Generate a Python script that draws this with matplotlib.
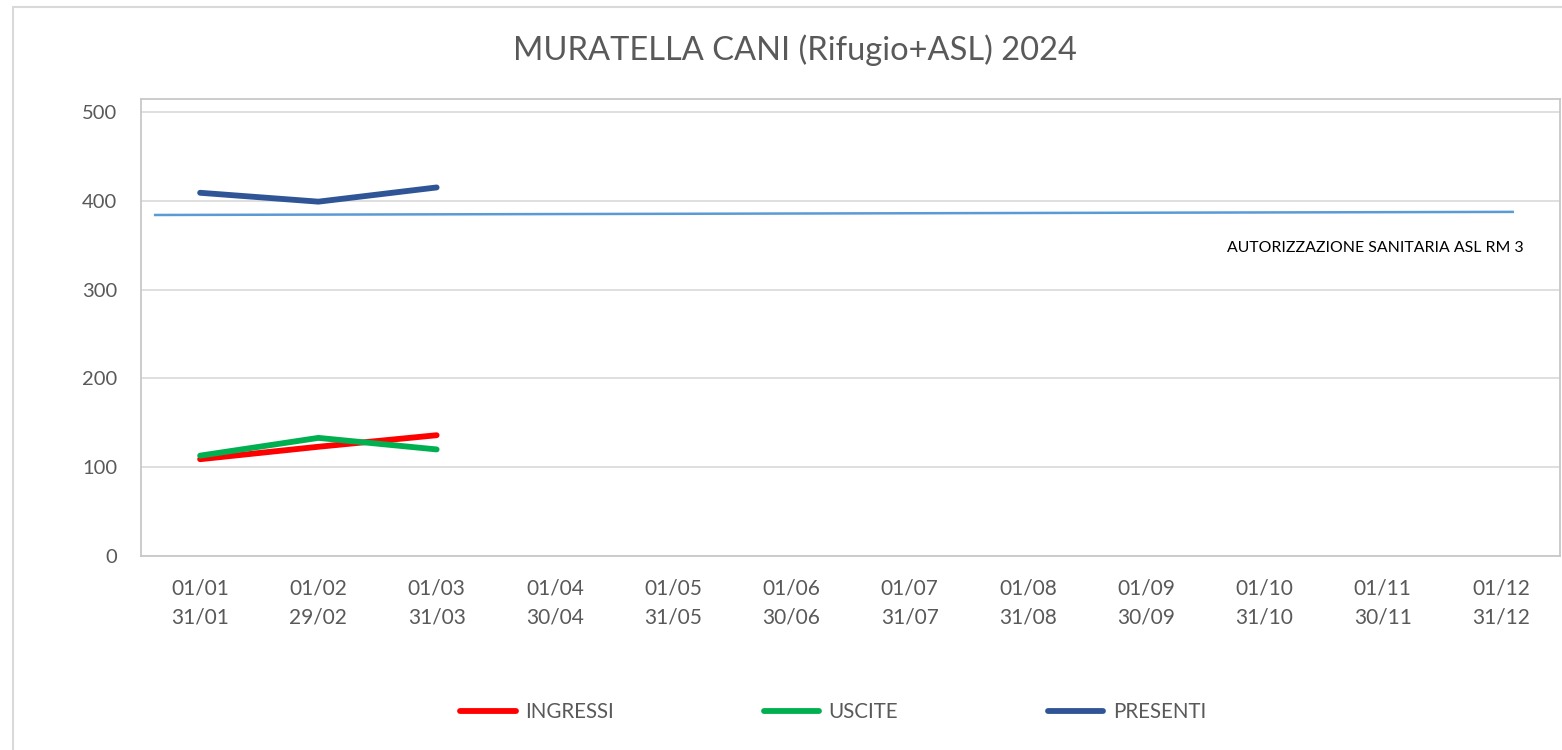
import numpy as np
import matplotlib.pyplot as plt
from matplotlib.patches import Rectangle

plt.rcParams['font.family'] = ['Lato', 'DejaVu Sans']

# periods (two-line category labels)
inizio = ['01/01', '01/02', '01/03', '01/04', '01/05', '01/06',
          '01/07', '01/08', '01/09', '01/10', '01/11', '01/12']
fine = ['31/01', '29/02', '31/03', '30/04', '31/05', '30/06',
        '31/07', '31/08', '30/09', '31/10', '30/11', '31/12']

# monthly values (only first three months available)
ingressi = [109, 123, 136]
uscite = [113, 133, 120]
presenti = [409, 399, 415]

# authorised capacity line
soglia_x = [-0.38, 11.1]
soglia_y = [384, 387.5]
soglia_label = 'AUTORIZZAZIONE SANITARIA ASL RM 3'

grigio = '#595959'
bordo = '#D9D9D9'

fig = plt.figure(figsize=(15.62, 7.5), dpi=100)
ax = fig.add_axes([141/1562, 1 - 556/750, (1560-141)/1562, (556-99)/750])

x = np.arange(len(inizio))
n = len(ingressi)

ax.plot(soglia_x, soglia_y, color='#5B9BD5', lw=1.8, zorder=2)
l1, = ax.plot(x[:n], ingressi, color='#FF0000', lw=4.2, solid_capstyle='round', label='INGRESSI', zorder=3)
l2, = ax.plot(x[:n], uscite, color='#00B050', lw=4.2, solid_capstyle='round', label='USCITE', zorder=4)
l3, = ax.plot(x[:n], presenti, color='#2F5597', lw=4.2, solid_capstyle='round', label='PRESENTI', zorder=3)

ax.text(9.94, 347, soglia_label, ha='center', va='center', fontsize=11.4, color='black')

ax.set_xlim(-0.5, 11.5)
ax.set_ylim(0, 514.6)
ax.set_yticks([0, 100, 200, 300, 400, 500])
ax.set_xticks(x)
ax.set_xticklabels([a + '\n' + b for a, b in zip(inizio, fine)], linespacing=1.6)
ax.tick_params(axis='both', length=0, labelcolor=grigio)
ax.tick_params(axis='y', pad=17, labelsize=14.5)
ax.tick_params(axis='x', pad=16, labelsize=15)
ax.grid(axis='y', color=bordo, lw=1.2)
ax.set_axisbelow(True)
for s in ax.spines.values():
    s.set_color('#C8C8C8')
    s.set_linewidth(1.3)

fig.text(0.509, 1 - 50/750, 'MURATELLA CANI (Rifugio+ASL) 2024',
         ha='center', va='center', fontsize=23.5, color=grigio)

fig.legend(handles=[l1, l2, l3], loc='center', bbox_to_anchor=(833/1562, 1 - 712/750),
           ncol=3, frameon=False, fontsize=14.8, labelcolor=grigio,
           handlelength=2.7, handletextpad=0.45, columnspacing=7.3)

fig.patches.append(Rectangle((13/1562, -0.05), 1.0, 1.05 - 7/750, transform=fig.transFigure,
                             fill=False, edgecolor=bordo, lw=1.5))

plt.savefig('out.png', dpi=100)
